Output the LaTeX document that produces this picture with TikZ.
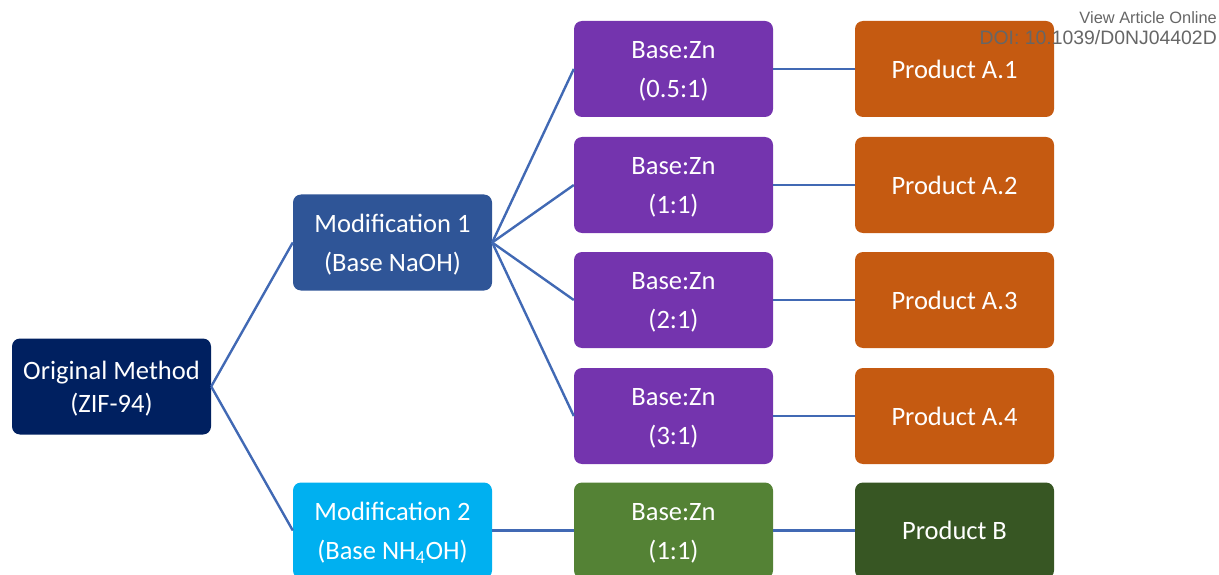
\documentclass[tikz,border=0pt]{standalone}
\usepackage{fontspec}
\setmainfont{Carlito}
\newfontfamily\doifont{Liberation Sans}
\definecolor{cNavy}{HTML}{002060}
\definecolor{cMod}{HTML}{2F5597}
\definecolor{cCyan}{HTML}{00B0F0}
\definecolor{cPurple}{HTML}{7434AE}
\definecolor{cGreen}{HTML}{548235}
\definecolor{cOrange}{HTML}{C55A11}
\definecolor{cDark}{HTML}{375623}
\definecolor{cLine}{HTML}{4169B4}
\definecolor{cGray}{HTML}{666666}
\begin{document}
\begin{tikzpicture}[x=1pt,y=-1pt,
  box/.style={rectangle,rounded corners=8pt,minimum width=199pt,minimum height=96pt,
    inner sep=0pt,text=white,align=center,font=\fontsize{26.5}{39}\selectfont},
  txt/.style={inner sep=0pt,text=white,align=center,font=\fontsize{26.5}{39}\selectfont,yshift=-2.5pt},
  link/.style={draw=cLine,line width=2.4pt}]
\useasboundingbox (0,0) rectangle (1219,575);
\node[box,fill=cNavy] (orig) at (111.5,386.5) {};
\node[txt,font=\fontsize{26.5}{33}\selectfont] (torig) at (orig.center) {Original Method\\(ZIF-94)};
\node[box,fill=cMod] (mod1) at (392.5,242.5) {};
\node[txt] (tmod1) at (mod1.center) {Modification 1\\(Base NaOH)};
\node[box,fill=cCyan] (mod2) at (392.5,530.5) {};
\node[txt] (tmod2) at (mod2.center) {Modification 2\\(Base NH\textsubscript{4}OH)};
\node[box,fill=cPurple] (bz1) at (673.5,69) {};
\node[txt] (tbz1) at (bz1.center) {Base:Zn\\(0.5:1)};
\node[box,fill=cPurple] (bz2) at (673.5,185) {};
\node[txt] (tbz2) at (bz2.center) {Base:Zn\\(1:1)};
\node[box,fill=cPurple] (bz3) at (673.5,300) {};
\node[txt] (tbz3) at (bz3.center) {Base:Zn\\(2:1)};
\node[box,fill=cPurple] (bz4) at (673.5,416) {};
\node[txt] (tbz4) at (bz4.center) {Base:Zn\\(3:1)};
\node[box,fill=cGreen] (bz5) at (673.5,530.5) {};
\node[txt] (tbz5) at (bz5.center) {Base:Zn\\(1:1)};
\node[box,fill=cOrange] (p1) at (954.5,69) {Product A.1};
\node[box,fill=cOrange] (p2) at (954.5,185) {Product A.2};
\node[box,fill=cOrange] (p3) at (954.5,300) {Product A.3};
\node[box,fill=cOrange] (p4) at (954.5,416) {Product A.4};
\node[box,fill=cDark] (pb) at (954.5,530.5) {Product B};
\draw[link] (orig.east) -- (mod1.west);
\draw[link] (orig.east) -- (mod2.west);
\foreach \t in {bz1,bz2,bz3,bz4}{\draw[link] (mod1.east) -- (\t.west);}
\draw[link] (mod2.east) -- (bz5.west);
\draw[link] (bz1.east) -- (p1.west);
\draw[link] (bz2.east) -- (p2.west);
\draw[link] (bz3.east) -- (p3.west);
\draw[link] (bz4.east) -- (p4.west);
\draw[link] (bz5.east) -- (pb.west);
\node[anchor=east,text=cGray,inner sep=0pt,font=\doifont\fontsize{16.4}{19}\selectfont] (va) at (1217,18) {View Article Online};
\node[anchor=east,text=cGray,inner sep=0pt,font=\doifont\fontsize{19.4}{22}\selectfont] (doi) at (1217,38) {DOI: 10.1039/D0NJ04402D};
\end{tikzpicture}
\end{document}
